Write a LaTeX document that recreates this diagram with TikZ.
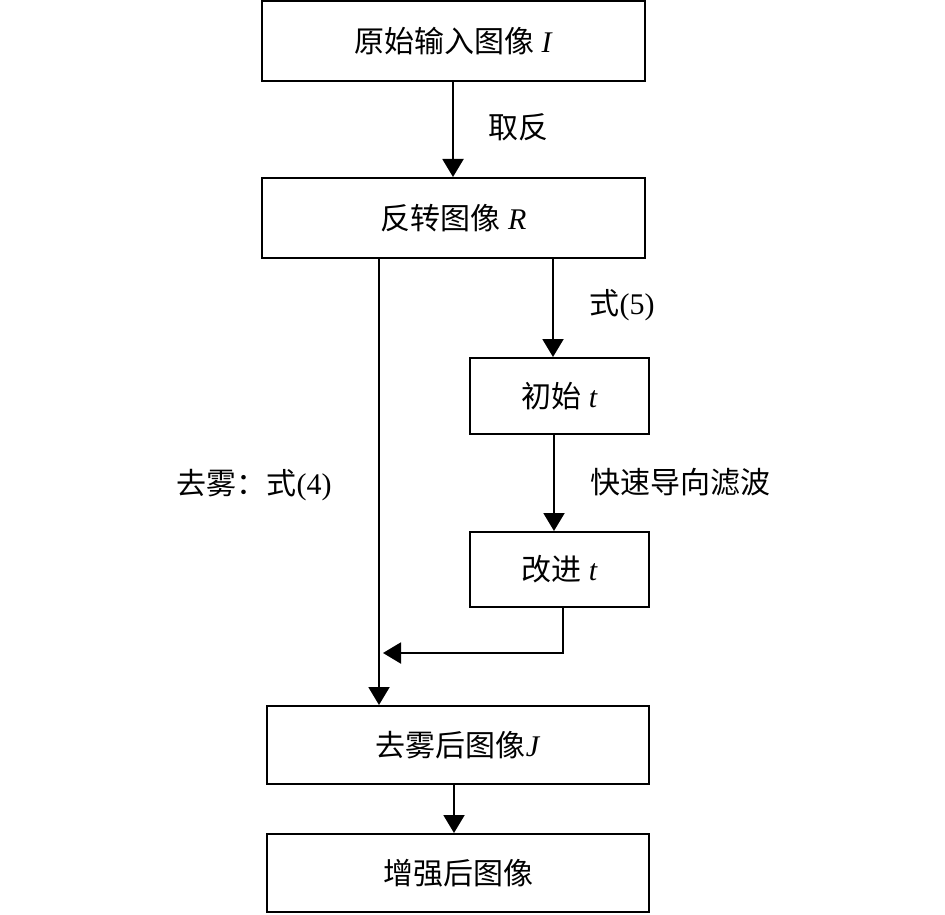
\documentclass[tikz,border=0pt]{standalone}
\usepackage{fontspec}
\setmainfont{Liberation Serif}
\newfontfamily\cjk{Noto Sans CJK SC}
\usetikzlibrary{arrows.meta}
\begin{document}
\begin{tikzpicture}[x=1pt,y=-1pt,
  box/.style={draw,line width=2pt,rectangle,inner sep=0pt,font=\fontsize{30}{36}\selectfont},
  lbl/.style={inner sep=0pt,font=\fontsize{30}{36}\selectfont},
  arr/.style={line width=2pt,-{Triangle[length=18pt,width=21pt]}},
  ln/.style={line width=2pt}]
\useasboundingbox (0,0) rectangle (945,915);
\node[box,minimum width=383pt,minimum height=80pt] (b1) at (453.5,41.5) {{\cjk 原始输入图像} \textit{I}};
\node[box,minimum width=383pt,minimum height=80pt] (b2) at (453.5,218) {{\cjk 反转图像} \textit{R}};
\node[box,minimum width=179pt,minimum height=76pt] (b3) at (559.5,396) {{\cjk 初始} \textit{t}};
\node[box,minimum width=179pt,minimum height=75pt] (b4) at (559.5,569.5) {{\cjk 改进} \textit{t}};
\node[box,minimum width=382pt,minimum height=78pt] (b5) at (458,745) {{\cjk 去雾后图像}\textit{J}};
\node[box,minimum width=382pt,minimum height=78pt] (b6) at (458,873) {{\cjk 增强后图像}};
\node[lbl] (l1) at (518,127) {\cjk 取反};
\node[lbl] (l2) at (622,305) {{\cjk 式}(5)};
\node[lbl] (l3) at (680,482) {\cjk 快速导向滤波};
\node[lbl] (l4) at (254,485) {{\cjk 去雾：式}(4)};
\coordinate (m) at (383,653);
\draw[arr] (b1.south -| 453,0) -- (b2.north -| 453,0);
\draw[arr] (b2.south -| 553,0) -- (b3.north -| 553,0);
\draw[arr] (b3.south -| 554,0) -- (b4.north -| 554,0);
\draw[arr] (b2.south -| 379,0) -- (b5.north -| 379,0);
\draw[arr] (b4.south -| 563,0) |- (m);
\draw[arr] (b5.south -| 454,0) -- (b6.north -| 454,0);
\end{tikzpicture}
\end{document}
